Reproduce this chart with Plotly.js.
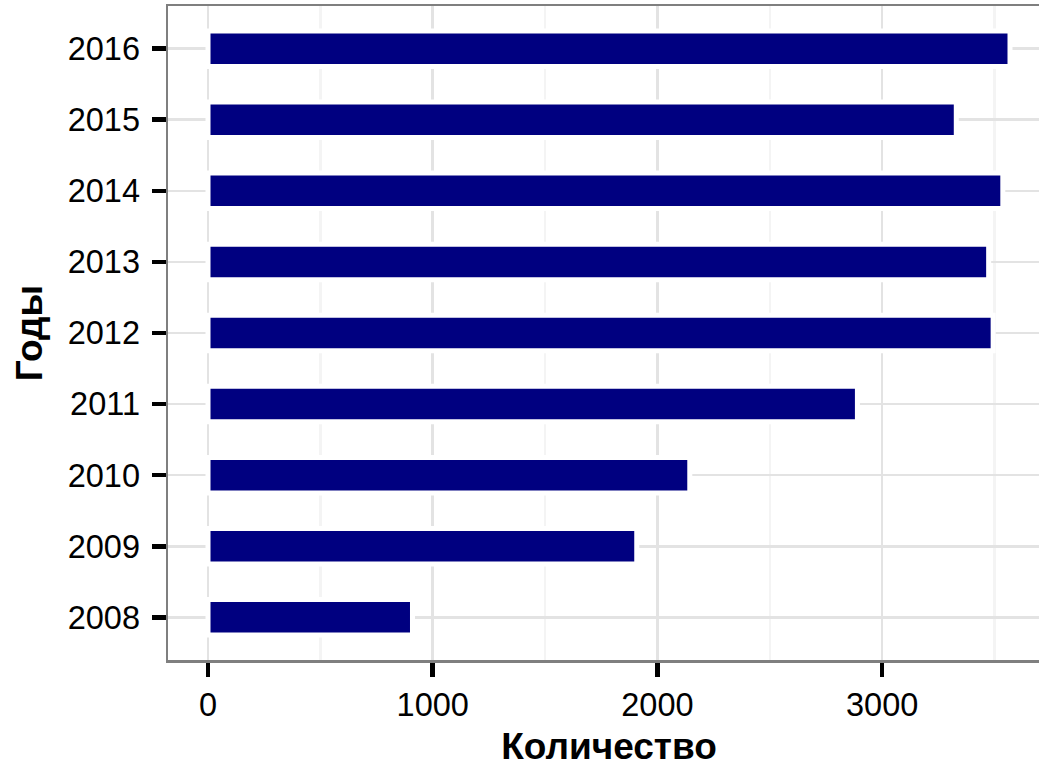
<!DOCTYPE html>
<html>
<head>
<meta charset="utf-8">
<script src="https://cdn.plot.ly/plotly-3.0.1.min.js"></script>
<style>
html, body { margin: 0; padding: 0; overflow: hidden; background: #fff; }
#chart { width: 1050px; height: 768px; }
</style>
</head>
<body>
<div id="chart"></div>
<script>
var years = ["2008", "2009", "2010", "2011", "2012", "2013", "2014", "2015", "2016"];
var counts = [910, 1908, 2144, 2890, 3494, 3474, 3537, 3330, 3569];
var xTickVals = [0, 1000, 2000, 3000];
var xTickText = ["0", "1000", "2000", "3000"];

var trace = {
  type: "bar",
  orientation: "h",
  x: counts,
  y: years,
  width: 0.5,
  marker: { color: "#000080", line: { color: "#ffffff", width: 5 } },
  hoverinfo: "x+y"
};

var layout = {
  width: 1050,
  height: 768,
  margin: { l: 168, r: 0, t: 6, b: 108 },
  paper_bgcolor: "#ffffff",
  plot_bgcolor: "#ffffff",
  font: { family: "Liberation Sans, Arial, sans-serif", color: "#000000" },
  showlegend: false,
  bargap: 0,
  xaxis: {
    range: [-178, 3747],
    tickvals: xTickVals,
    ticktext: xTickText,
    ticks: "outside",
    ticklen: 14,
    tickwidth: 4.5,
    tickcolor: "#000000",
    tickfont: { size: 32.5, color: "#000000" },
    showgrid: true,
    gridcolor: "#e3e3e3",
    gridwidth: 2.5,
    minor: { dtick: 1000, tick0: 500, showgrid: true, gridcolor: "#f4f4f4", gridwidth: 2.5, ticks: "" },
    zeroline: false,
    showline: true,
    linecolor: "#7f7f7f",
    linewidth: 2.5,
    mirror: true,
    title: { text: "Количество", font: { size: 37, color: "#000000", weight: "bold" }, standoff: 12 }
  },
  yaxis: {
    type: "category",
    range: [-0.6, 8.6],
    ticks: "outside",
    ticklen: 14,
    tickwidth: 4.5,
    tickcolor: "#000000",
    tickfont: { size: 32.5, color: "#000000" },
    ticklabelstandoff: 5,
    showgrid: true,
    gridcolor: "#e3e3e3",
    gridwidth: 2.5,
    zeroline: false,
    showline: true,
    linecolor: "#7f7f7f",
    linewidth: 2.5,
    mirror: true,
    title: { text: "Годы", font: { size: 37, color: "#000000", weight: "bold" }, standoff: 14 }
  }
};

Plotly.newPlot("chart", [trace], layout, { displayModeBar: false, staticPlot: true });
</script>
</body>
</html>
